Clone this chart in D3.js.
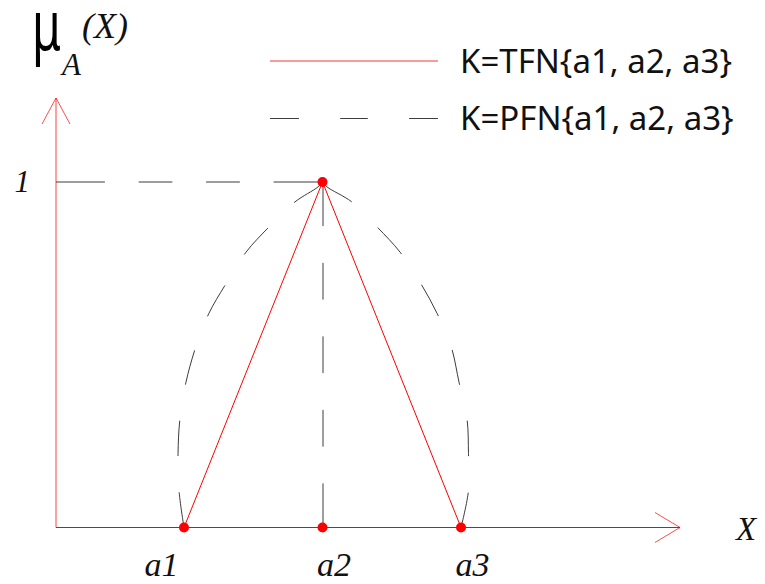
<!DOCTYPE html>
<html>
<head>
<meta charset="utf-8">
<script src="https://cdn.jsdelivr.net/npm/d3@7"></script>
<style>
  html, body { margin: 0; padding: 0; background: #fff; }
  svg { display: block; }
</style>
</head>
<body>
<svg id="chart" width="765" height="584"></svg>
<script>
// ---- data ----
const aValues = [1, 2, 3];                 // support points a1, a2, a3
const aLabels = ["a1", "a2", "a3"];
const tfnMu = [0, 1, 0];                   // triangular membership at a1, a2, a3
// parabolic-type membership curve, read from the peak down to the base
const pfnMu     = [1, 0.986, 0.942, 0.87, 0.797, 0.71, 0.62, 0.525, 0.42, 0.316, 0.214, 0.107, 0];
const pfnLeftX  = [2, 1.968, 1.80, 1.614, 1.448, 1.31, 1.18, 1.087, 1.014, 0.971, 0.957, 0.964, 1];
const pfnRightX = [2, 2.032, 2.213, 2.394, 2.56, 2.704, 2.827, 2.928, 2.986, 3.043, 3.054, 3.054, 3];
const muTicks = [1];
const muTickLabels = ["1"];
const legendLabels = ["K=TFN{a1, a2, a3}", "K=PFN{a1, a2, a3}"];

// ---- layout ----
const svg = d3.select("#chart");
const originX = 56, originY = 527.5;
const xEnd = 680, yEnd = 98;
const x = d3.scaleLinear().domain([1, 3]).range([184, 461]);
const y = d3.scaleLinear().domain([0, 1]).range([originY, 182]);

const RED = "#ff0000";
const DASH = "#3c3c3c";
const serif = "'Liberation Serif', 'DejaVu Serif', serif";
const sans = "'Noto Sans', 'Open Sans', sans-serif";

// CAD-style dash pattern fitted to a length: n dashes, longer end dashes
function cadDash(L, n, endFactor, gapFactor) {
  const d = L / (2 * endFactor + (n - 2) + (n - 1) * gapFactor);
  const e = d * endFactor, g = d * gapFactor;
  const pat = [e];
  for (let i = 1; i < n; i++) { pat.push(g); pat.push(i === n - 1 ? e : d); }
  return pat.join(",");
}
function fitDash(path, n, endFactor, gapFactor) {
  const L = path.node().getTotalLength();
  path.attr("stroke-dasharray", cadDash(L, n, endFactor, gapFactor));
}

// ---- axes ----
svg.append("line").attr("x1", originX).attr("y1", originY).attr("x2", xEnd).attr("y2", originY)
  .attr("stroke", RED).attr("stroke-width", 1);
svg.append("line").attr("x1", originX).attr("y1", originY).attr("x2", originX).attr("y2", yEnd)
  .attr("stroke", RED).attr("stroke-width", 1).attr("stroke-opacity", 0.75);
// arrow heads
svg.append("path").attr("d", `M${xEnd - 25},${originY - 15} L${xEnd},${originY} L${xEnd - 25},${originY + 15}`)
  .attr("fill", "none").attr("stroke", RED).attr("stroke-opacity", 0.7);
svg.append("path").attr("d", `M${originX - 14},${yEnd + 26} L${originX},${yEnd} L${originX + 14},${yEnd + 26}`)
  .attr("fill", "none").attr("stroke", RED).attr("stroke-opacity", 0.7);

// tick labels via d3 axes (no tick marks, no domain line)
const xAxis = d3.axisBottom(x).tickValues(aValues).tickSize(0).tickPadding(24)
  .tickFormat((d, i) => aLabels[i]);
const gx = svg.append("g").attr("transform", `translate(0,${originY})`).call(xAxis);
gx.select(".domain").remove();
gx.selectAll("text").attr("font-family", serif).attr("font-style", "italic")
  .attr("font-size", 34).attr("fill", "#111")
  .attr("dx", (d, i) => i === 0 ? -23 : 11);

const yAxis = d3.axisLeft(y).tickValues(muTicks).tickSize(0).tickPadding(26)
  .tickFormat((d, i) => muTickLabels[i]);
const gy = svg.append("g").attr("transform", `translate(${originX},0)`).call(yAxis);
gy.select(".domain").remove();
gy.selectAll("text").attr("font-family", serif).attr("font-style", "italic")
  .attr("font-size", 31).attr("fill", "#111");

// ---- dashed guides ----
const hGuide = svg.append("line")
  .attr("x1", originX).attr("y1", y(1)).attr("x2", x(aValues[1])).attr("y2", y(1))
  .attr("stroke", DASH).attr("stroke-width", 1);
hGuide.attr("stroke-dasharray", cadDash(x(aValues[1]) - originX, 4, 1.45, 1.0));

const vGuide = svg.append("line")
  .attr("x1", x(aValues[1]) + 0.5).attr("y1", y(1)).attr("x2", x(aValues[1]) + 0.5).attr("y2", y(0))
  .attr("stroke", DASH).attr("stroke-width", 1);
vGuide.attr("stroke-dasharray", cadDash(y(0) - y(1), 5, 1.2, 1.0));

// ---- PFN curve (two halves from the peak down) ----
const curveLine = d3.line().x(d => x(d[0])).y(d => y(d[1])).curve(d3.curveCatmullRom.alpha(0.5));
[pfnLeftX, pfnRightX].forEach(xs => {
  const pts = xs.map((v, i) => [v, pfnMu[i]]);
  const p = svg.append("path").attr("d", curveLine(pts))
    .attr("fill", "none").attr("stroke", DASH).attr("stroke-width", 1);
  fitDash(p, 6, 1.0, 1.03);
});

// ---- TFN triangle ----
const triLine = d3.line().x(d => x(d[0])).y(d => y(d[1]));
svg.append("path").attr("d", triLine(aValues.map((v, i) => [v, tfnMu[i]])))
  .attr("fill", "none").attr("stroke", RED).attr("stroke-width", 1);

// ---- points ----
const dots = aValues.map(v => [v, 0]).concat([[aValues[1], 1]]);
svg.selectAll("circle.pt").data(dots).enter().append("circle")
  .attr("class", "pt").attr("cx", d => x(d[0])).attr("cy", d => y(d[1]))
  .attr("r", 5).attr("fill", RED);

// ---- axis titles ----
svg.append("text").attr("x", 32).attr("y", 50).attr("font-family", sans)
  .attr("font-size", 70).attr("fill", "#000")
  .attr("transform", "translate(32,0) scale(0.66,1) translate(-32,0)")
  .text("μ");
svg.append("text").attr("x", 62).attr("y", 75).attr("font-family", serif)
  .attr("font-style", "italic").attr("font-size", 31).attr("fill", "#111").text("A");
svg.append("text").attr("x", 82).attr("y", 38).attr("font-family", serif)
  .attr("font-style", "italic").attr("font-size", 36).attr("fill", "#111").text("(X)");
svg.append("text").attr("x", 736).attr("y", 540).attr("font-family", serif)
  .attr("font-style", "italic").attr("font-size", 33).attr("fill", "#111").text("X");

// ---- legend ----
const legendY = [61, 118];
const lg = svg.append("g");
lg.append("line").attr("x1", 270).attr("x2", 438).attr("y1", legendY[0]).attr("y2", legendY[0])
  .attr("stroke", RED).attr("stroke-width", 1).attr("stroke-opacity", 0.8);
lg.append("line").attr("x1", 270).attr("x2", 438).attr("y1", legendY[1] + 0.5).attr("y2", legendY[1] + 0.5)
  .attr("stroke", DASH).attr("stroke-width", 1)
  .attr("stroke-dasharray", cadDash(168, 3, 1.05, 1.5));
lg.selectAll("text.leg").data(legendLabels).enter().append("text")
  .attr("class", "leg").attr("x", 460).attr("y", (d, i) => legendY[i] + 12)
  .attr("font-family", sans).attr("font-size", 33).attr("fill", "#111")
  .text(d => d);
</script>
</body>
</html>
